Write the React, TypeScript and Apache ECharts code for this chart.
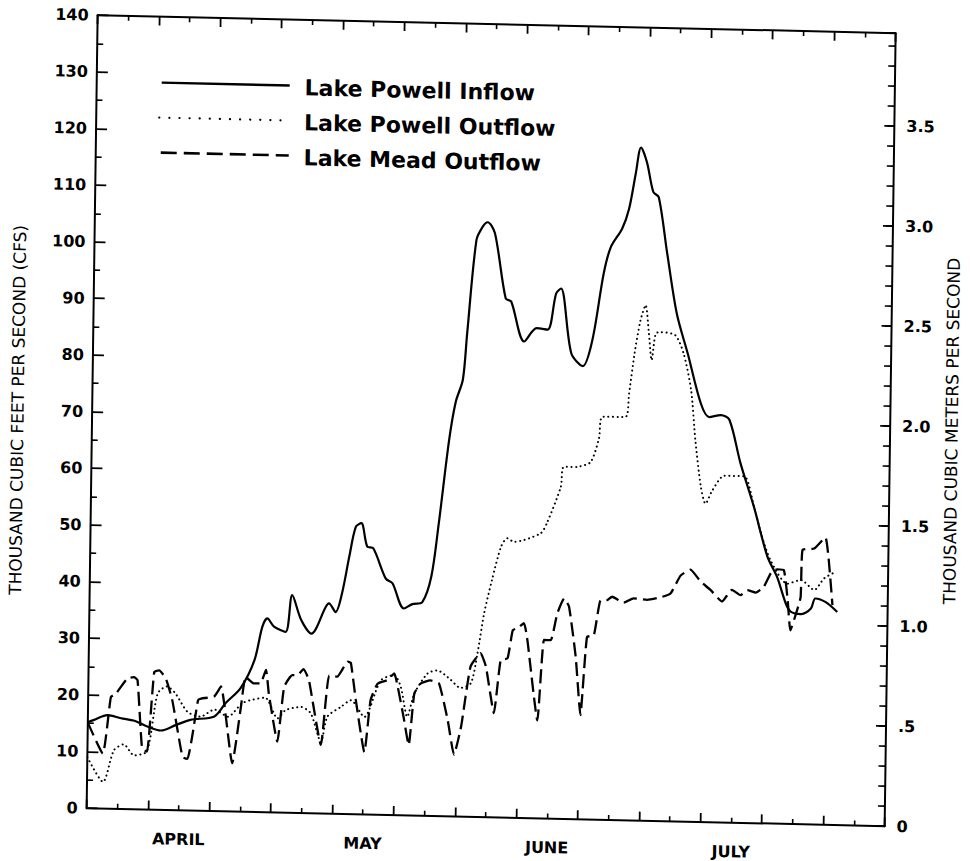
import React, { useEffect, useRef } from 'react';
import * as echarts from 'echarts';

const FONT = '"DejaVu Sans", "Noto Sans", sans-serif';

const seriesNames = ['Lake Powell Inflow', 'Lake Powell Outflow', 'Lake Mead Outflow'];
const monthNames = ['APRIL', 'MAY', 'JUNE', 'JULY'];
const monthMidDays = [15, 45, 75, 105];
const xMaxDays = 130;
const leftMaxKcfs = 140;
const cfsPerCms = 35.3147;
const rightTickValues = [0, 0.5, 1.0, 1.5, 2.0, 2.5, 3.0, 3.5];
const rightTickLabels = ['0', '.5', '1.0', '1.5', '2.0', '2.5', '3.0', '3.5'];
const leftAxisName = 'THOUSAND CUBIC FEET PER SECOND (CFS)';
const rightAxisName = 'THOUSAND CUBIC METERS PER SECOND';

// days since April 1, thousand cfs
const inflowDays = [0, 1.0, 3.2, 5.4, 7.6, 9.8, 11.9, 14.3, 16.7, 20.6, 22.4, 24.8, 27.0, 28.2, 29.0, 30.1, 32.0, 33.0, 34.5, 36.2, 38.5, 39.0, 40.1, 41.1, 42.2, 43.2, 44.1, 45.1, 46.1, 48.2, 49.3, 51.2, 52.6, 54.2, 55.6, 56.7, 58.2, 59.2, 60.3, 60.9, 62.2, 63.2, 64.0, 65.2, 67.1, 68.0, 70.2, 72.2, 74.0, 75.3, 76.1, 77.9, 79.8, 81.3, 83.0, 84.1, 85.9, 87.0, 88.0, 88.8, 89.8, 90.9, 91.8, 93.3, 95.0, 96.9, 99.1, 100.5, 102.4, 103.8, 105.7, 108.0, 110.3, 111.9, 113.4, 114.2, 115.9, 117.5, 118.2, 119.9, 121.8];
const inflowKcfs = [15.2, 15.6, 16.5, 16.0, 15.6, 14.6, 14.0, 15.0, 16.0, 16.7, 19.1, 21.8, 26.8, 32.7, 34.2, 32.8, 31.9, 38.4, 34.1, 31.7, 36.5, 37.1, 35.6, 38.9, 45.4, 50.7, 51.4, 47.3, 47.0, 41.7, 40.9, 36.5, 37.3, 37.7, 42.2, 51.6, 66.4, 73.2, 77.1, 85.3, 101.8, 104.2, 105.0, 103.1, 91.6, 91.1, 84.1, 86.5, 86.3, 92.7, 93.6, 82.2, 80.0, 84.6, 96.4, 101.1, 104.4, 108.0, 114.2, 118.8, 116.2, 111.0, 110.1, 100.2, 89.6, 82.5, 73.9, 71.5, 71.9, 71.1, 63.5, 55.8, 47.1, 43.6, 38.9, 37.5, 37.1, 38.1, 39.9, 39.3, 37.6];

const powellOutDays = [0, 2.6, 4.3, 5.9, 7.6, 9.7, 11.3, 12.8, 14.2, 16.2, 18.3, 20.6, 22.8, 25.2, 28.8, 30.9, 32.2, 34.7, 36.3, 38.0, 39.0, 41.2, 42.8, 45.0, 47.6, 49.8, 50.9, 52.0, 53.1, 55.2, 56.8, 59.0, 60.6, 62.3, 63.3, 64.3, 65.5, 66.9, 67.9, 69.0, 73.3, 74.3, 76.5, 76.9, 79.2, 81.3, 82.6, 83.1, 86.9, 87.4, 88.2, 89.1, 89.9, 90.5, 91.0, 91.6, 92.4, 94.8, 96.2, 97.5, 98.3, 99.3, 100.1, 101.2, 103.1, 106.3, 108.0, 109.2, 110.8, 113.6, 115.8, 118.0, 119.6, 121.5];
const powellOutKcfs = [9.0, 4.7, 10.3, 11.4, 9.5, 10.3, 20.5, 21.8, 20.6, 17.4, 16.6, 17.9, 16.7, 19.2, 20.2, 16.6, 18.1, 18.7, 17.6, 12.6, 17.1, 18.9, 20.1, 17.2, 23.7, 24.7, 22.6, 17.4, 21.5, 25.1, 25.7, 24.1, 22.7, 23.6, 28.9, 36.0, 41.9, 47.8, 49.3, 48.7, 50.3, 52.1, 58.6, 62.1, 62.2, 63.1, 67.3, 71.1, 71.2, 75.3, 82.4, 88.3, 91.0, 86.0, 81.3, 86.0, 86.3, 85.8, 82.6, 76.2, 67.4, 59.2, 56.2, 58.6, 61.2, 61.2, 55.9, 51.2, 46.5, 42.4, 43.1, 41.4, 43.5, 44.7];

const meadOutDays = [0, 2.5, 3.7, 4.5, 6.3, 7.4, 8.0, 8.9, 9.7, 10.7, 11.5, 12.6, 13.7, 15.5, 16.3, 17.1, 17.9, 18.4, 20.5, 21.6, 23.6, 24.9, 25.6, 26.9, 28.0, 28.9, 29.4, 30.9, 31.9, 33.2, 34.0, 35.0, 35.9, 38.0, 39.2, 40.5, 42.2, 42.7, 43.6, 45.1, 46.0, 47.1, 48.7, 49.8, 50.4, 51.4, 52.3, 53.1, 54.1, 55.7, 57.1, 58.6, 59.7, 60.8, 62.2, 63.8, 64.7, 66.1, 67.1, 68.2, 69.0, 69.8, 70.8, 71.4, 73.2, 74.1, 75.2, 76.2, 77.3, 78.1, 79.3, 80.2, 81.1, 82.2, 83.2, 84.3, 85.1, 87.0, 88.6, 90.8, 93.0, 94.6, 96.2, 97.8, 99.5, 101.1, 103.0, 104.6, 106.0, 107.1, 108.5, 109.8, 110.9, 111.9, 113.0, 113.7, 114.2, 115.1, 115.8, 116.0, 117.9, 119.7, 120.3, 121.0];
const meadOutKcfs = [15.1, 9.7, 19.7, 20.3, 23.0, 23.3, 22.8, 10.7, 10.2, 24.3, 24.6, 23.2, 19.4, 9.4, 9.1, 13.6, 19.5, 19.8, 20.2, 22.0, 8.5, 18.5, 23.8, 22.7, 22.7, 25.1, 21.0, 12.5, 22.2, 24.3, 24.3, 25.4, 23.5, 12.1, 24.4, 24.2, 26.9, 26.7, 20.1, 11.0, 20.2, 23.1, 23.8, 25.0, 22.6, 17.4, 12.4, 21.5, 23.3, 23.9, 23.4, 17.0, 10.9, 15.9, 26.5, 28.9, 26.6, 18.4, 27.8, 28.1, 33.1, 33.5, 34.4, 31.4, 17.3, 31.5, 31.5, 36.2, 38.9, 37.5, 28.7, 18.4, 32.2, 32.5, 38.7, 38.8, 39.4, 38.4, 39.2, 39.0, 39.5, 40.2, 43.4, 44.5, 42.4, 41.0, 39.0, 41.1, 40.2, 41.1, 40.7, 41.8, 44.2, 44.9, 44.8, 39.5, 34.2, 37.2, 40.1, 48.4, 48.7, 50.7, 46.7, 38.8];

const zip = (xs: number[], ys: number[]) => xs.map((x, i) => [x, ys[i]]);

const near = (a: number, b: number) => Math.abs(a - b) < 1e-6;

export default function App() {
  const ref = useRef<HTMLDivElement>(null);

  useEffect(() => {
    if (!ref.current) return;
    const chart = echarts.init(ref.current, null, { renderer: 'svg' });
    const black = '#000';
    const rightMax = leftMaxKcfs / cfsPerCms;

    const frameLine = () => ({ show: true, onZero: false, lineStyle: { color: black, width: 2 } });
    const noLine = () => ({ show: false, onZero: false });

    const option: any = {
      animation: false,
      backgroundColor: '#fff',
      textStyle: { fontFamily: FONT, color: black },
      grid: { left: 92, right: 80, top: 24, bottom: 44, containLabel: false, outerBoundsMode: 'none' },
      xAxis: [
        {
          type: 'value', position: 'bottom', min: 0, max: xMaxDays, interval: 10,
          axisLine: frameLine(),
          axisTick: { show: true, inside: true, length: 9, lineStyle: { color: black, width: 1.8 } },
          minorTick: { show: true, splitNumber: 2, length: 5, lineStyle: { color: black, width: 1.6 } },
          axisLabel: { show: false }, splitLine: { show: false }, minorSplitLine: { show: false },
        },
        {
          type: 'value', position: 'bottom', min: 0, max: xMaxDays, interval: 5,
          axisLine: noLine(), axisTick: { show: false }, splitLine: { show: false },
          axisLabel: {
            show: true, margin: 21, color: black, fontSize: 16, fontWeight: 'bold', fontFamily: FONT,
            formatter: (v: number) => {
              const i = monthMidDays.findIndex((d) => near(d, v));
              return i >= 0 ? monthNames[i] : '';
            },
          },
        },
        {
          type: 'value', position: 'top', min: 0, max: xMaxDays, interval: 10,
          axisLine: frameLine(),
          axisTick: { show: true, inside: true, length: 9, lineStyle: { color: black, width: 1.8 } },
          minorTick: { show: true, splitNumber: 2, length: 5, lineStyle: { color: black, width: 1.6 } },
          axisLabel: { show: false }, splitLine: { show: false }, minorSplitLine: { show: false },
        },
      ],
      yAxis: [
        {
          type: 'value', position: 'left', min: 0, max: leftMaxKcfs, interval: 10,
          axisLine: frameLine(),
          axisTick: { show: true, inside: true, length: 11, lineStyle: { color: black, width: 1.8 } },
          minorTick: { show: true, splitNumber: 2, length: 6, lineStyle: { color: black, width: 1.6 } },
          axisLabel: { show: true, margin: 9, color: black, fontSize: 16, fontWeight: 'bold', fontFamily: FONT },
          splitLine: { show: false }, minorSplitLine: { show: false },
          name: leftAxisName, nameLocation: 'middle', nameRotate: 90, nameGap: 66,
          nameTextStyle: { fontSize: 17, color: black, fontFamily: FONT },
        },
        {
          type: 'value', position: 'right', min: 0, max: rightMax, interval: 0.1,
          axisLine: frameLine(),
          axisTick: { show: true, inside: true, length: 7, lineStyle: { color: black, width: 1.6 } },
          axisLabel: {
            show: true, margin: 12, color: black, fontSize: 16, fontWeight: 'bold', fontFamily: FONT,
            formatter: (v: number) => {
              const i = rightTickValues.findIndex((t) => near(t, v));
              return i >= 0 ? rightTickLabels[i] : '';
            },
          },
          splitLine: { show: false },
          name: rightAxisName, nameLocation: 'middle', nameRotate: 90, nameGap: 53,
          nameTextStyle: { fontSize: 17, color: black, fontFamily: FONT },
        },
        {
          type: 'value', position: 'right', min: 0, max: rightMax, interval: 0.5,
          axisLine: noLine(),
          axisTick: { show: true, inside: true, length: 10, lineStyle: { color: black, width: 1.8 } },
          axisLabel: { show: false }, splitLine: { show: false },
        },
      ],
      series: [
        {
          name: seriesNames[0], type: 'line', xAxisIndex: 0, yAxisIndex: 0,
          data: zip(inflowDays, inflowKcfs), symbol: 'none', smooth: 0.3,
          lineStyle: { color: black, width: 2.2 },
        },
        {
          name: seriesNames[1], type: 'line', xAxisIndex: 0, yAxisIndex: 0,
          data: zip(powellOutDays, powellOutKcfs), symbol: 'none', smooth: 0.25,
          lineStyle: { color: black, width: 2, type: [0.1, 4.5], cap: 'round' },
        },
        {
          name: seriesNames[2], type: 'line', xAxisIndex: 0, yAxisIndex: 0,
          data: zip(meadOutDays, meadOutKcfs), symbol: 'none', smooth: 0.15,
          lineStyle: { color: black, width: 2.3, type: [14, 6] },
        },
      ],
      graphic: {
        elements: [
          { type: 'line', shape: { x1: 157, y1: 90, x2: 285, y2: 90 }, style: { stroke: black, lineWidth: 2.4 } },
          { type: 'line', shape: { x1: 155, y1: 125, x2: 285, y2: 125 }, style: { stroke: black, lineWidth: 2.2, lineDash: [0.1, 10], lineCap: 'round' } },
          { type: 'line', shape: { x1: 157, y1: 160, x2: 285, y2: 160 }, style: { stroke: black, lineWidth: 2.6, lineDash: [16, 7] } },
          { type: 'text', x: 300, y: 92, style: { text: seriesNames[0], fill: black, font: `bold 22px ${FONT}`, verticalAlign: 'middle' } },
          { type: 'text', x: 300, y: 127, style: { text: seriesNames[1], fill: black, font: `bold 22px ${FONT}`, verticalAlign: 'middle' } },
          { type: 'text', x: 300, y: 162, style: { text: seriesNames[2], fill: black, font: `bold 22px ${FONT}`, verticalAlign: 'middle' } },
        ],
      },
    };

    chart.setOption(option);
    return () => chart.dispose();
  }, []);

  return (
    <div
      ref={ref}
      style={{
        position: 'absolute',
        left: 0,
        top: 0,
        width: 970,
        height: 861,
        transform: 'matrix(1, 0.02256, -0.01387, 1, 0, 0)',
        transformOrigin: '485px 430.5px',
      }}
    />
  );
}
